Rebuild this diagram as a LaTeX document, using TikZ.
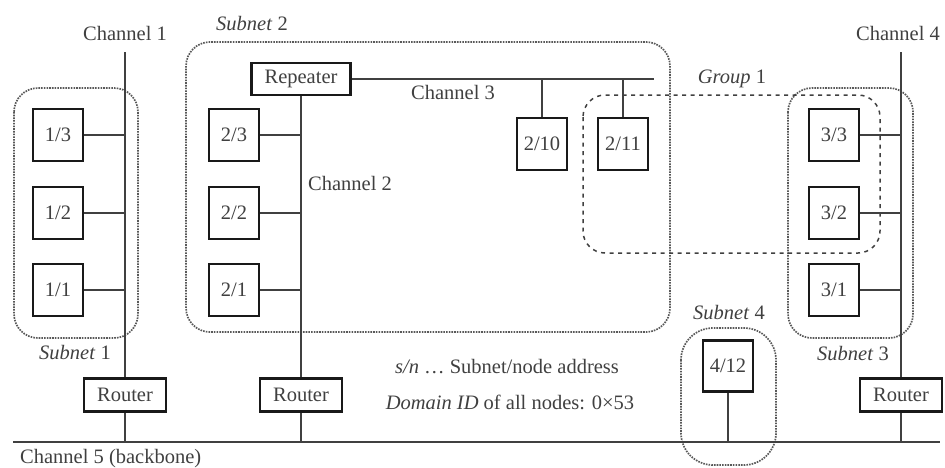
\documentclass[tikz,border=0pt]{standalone}
\usepackage{fontspec}
\setmainfont{Liberation Serif}
\newcommand{\fsz}{\fontsize{20.5}{24}\selectfont}
\begin{document}
\begin{tikzpicture}[x=1pt,y=-1pt,
  box/.style={draw=black!90, line width=2.9pt, fill=white, minimum width=50pt, minimum height=52pt, inner sep=0pt, font=\fsz, text=black!75},
  router/.style={box, minimum width=82pt, minimum height=33pt},
  wire/.style={line width=1.5pt, draw=black!75},
  subnet/.style={draw=black!65, line width=1.7pt, dash pattern=on 1.6pt off 1.1pt, rounded corners=24pt},
  group/.style={draw=black!75, line width=1.5pt, dash pattern=on 4pt off 4.5pt, rounded corners=22pt},
  lbl/.style={font=\fsz, text=black!75, inner sep=0pt}
]
\useasboundingbox (0,0) rectangle (945,467);

% labels
\node[lbl] (lc1) at (125,33) {Channel 1};
\node[lbl] (lc4) at (898,33) {Channel 4};
\node[lbl] (lc2) at (350,183) {Channel 2};
\node[lbl] (lc3) at (453,92) {Channel 3};
\node[lbl, anchor=west] (lc5) at (20,459) {Channel 5 (backbone)};
\node[lbl] (ls1) at (75,352) {\textit{Subnet} 1};
\node[lbl] (ls2) at (252,24) {\textit{Subnet} 2};
\node[lbl] (ls3) at (853,353) {\textit{Subnet} 3};
\node[lbl] (ls4) at (729,312) {\textit{Subnet} 4};
\node[lbl] (lg1) at (732,79) {\textit{Group} 1};
\node[lbl] (leg1) at (507,367) {\textit{s/n} \ldots\ Subnet/node address};
\node[lbl] (leg2) at (510,402) {\textit{Domain ID} of all nodes: 0×53};

% subnets and group
\draw[subnet] (14,88) rectangle (138,338);
\draw[subnet] (186,42) rectangle (670,332);
\draw[subnet] (788,88) rectangle (913,338);
\draw[subnet, rounded corners=32pt] (681,328) rectangle (776,465);
\draw[group] (583,95) rectangle (880,253);

% backbone
\coordinate (bbL) at (13,442);
\coordinate (bbR) at (940,442);
\draw[wire, line width=1.8pt] (bbL) -- (bbR);

% channel tops
\coordinate (c1top) at (125,52);
\coordinate (c4top) at (901,52);
\coordinate (c3end) at (654,79);

% nodes
\node[box] (n13) at (58,135) {1/3};
\node[box] (n12) at (58,213) {1/2};
\node[box] (n11) at (58,290) {1/1};
\node[router] (r1) at (125,395) {Router};

\node[box, minimum width=99pt, minimum height=32pt] (rep) at (301,79) {Repeater};
\node[box] (n23) at (234,135) {2/3};
\node[box] (n22) at (234,213) {2/2};
\node[box] (n21) at (234,290) {2/1};
\node[router] (r2) at (301,395) {Router};
\node[box] (n210) at (542,144) {2/10};
\node[box] (n211) at (623,144) {2/11};

\node[box] (n33) at (834,135) {3/3};
\node[box] (n32) at (834,213) {3/2};
\node[box] (n31) at (834,290) {3/1};
\node[router] (r3) at (901,395) {Router};

\node[box, minimum height=51pt] (n412) at (728,366) {4/12};

% channel 1
\draw[wire] (c1top) -- (r1.north);
\draw[wire] (r1.south) -- (r1.south |- bbL);
\foreach \n in {n13,n12,n11} \draw[wire] (\n.east) -- (\n.east -| c1top);

% channel 2 and 3
\draw[wire] (rep.south) -- (r2.north);
\draw[wire] (r2.south) -- (r2.south |- bbL);
\foreach \n in {n23,n22,n21} \draw[wire] (\n.east) -- (\n.east -| rep.south);
\draw[wire] (rep.east) -- (c3end);
\draw[wire] (n210.north |- rep.east) -- (n210.north);
\draw[wire] (n211.north |- rep.east) -- (n211.north);

% channel 4
\draw[wire] (c4top) -- (r3.north);
\draw[wire] (r3.south) -- (r3.south |- bbL);
\foreach \n in {n33,n32,n31} \draw[wire] (\n.east) -- (\n.east -| c4top);

% subnet 4
\draw[wire] (n412.south) -- (n412.south |- bbL);
\end{tikzpicture}
\end{document}
